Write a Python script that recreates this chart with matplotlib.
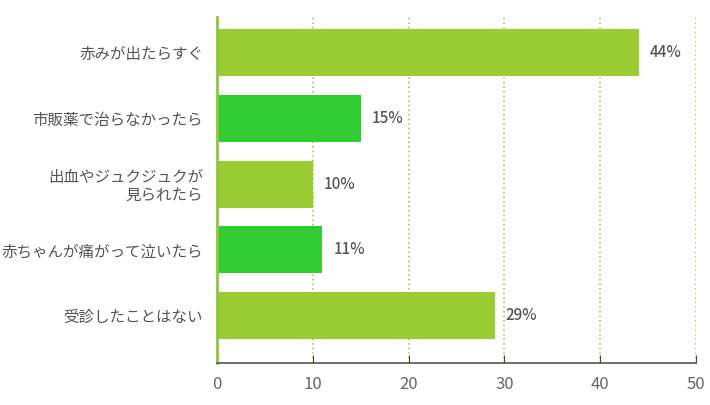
import matplotlib.pyplot as plt

plt.rcParams['font.family'] = ['Noto Sans CJK JP', 'DejaVu Sans']

categories = ["赤みが出たらすぐ", "市販薬で治らなかったら", "出血やジュクジュクが\n見られたら",
              "赤ちゃんが痛がって泣いたら", "受診したことはない"]
values = [44, 15, 10, 11, 29]
bar_colors = ["#9acd32", "#32cd32", "#9acd32", "#32cd32", "#9acd32"]
xticks = [0, 10, 20, 30, 40, 50]

fig = plt.figure(figsize=(7.1, 4.05), dpi=100)
ax = fig.add_axes([0.3056, 0.1037, 0.6747, 0.8543])

ypos = list(range(len(categories)))
ax.barh(ypos, values, height=0.715, color=bar_colors, zorder=2)
for y, v in zip(ypos, values):
    ax.annotate(f"{v}%", (v, y), xytext=(8, 0), textcoords="offset points",
                va="center", ha="left", fontsize=11, color="#555555", fontweight="medium")

ax.set_xlim(0, 50)
ax.set_ylim(4.72, -0.54)
ax.set_xticks(xticks)
ax.set_yticks(ypos)
ax.set_yticklabels(categories, fontsize=11.2, color="#555555", linespacing=1.05)
ax.tick_params(axis="y", length=0, pad=10)
ax.tick_params(axis="x", direction="in", length=6, colors="#444444", labelcolor="#666666",
               labelsize=12, pad=9)
for lbl in ax.get_yticklabels():
    lbl.set_multialignment("right")

ax.grid(axis="x", color="#8cc63f", linestyle=(0, (1, 2)), linewidth=1.1, zorder=1)
for s in ["top", "right"]:
    ax.spines[s].set_visible(False)
ax.spines["left"].set_color("#8cc63f")
ax.spines["left"].set_linewidth(2)
ax.spines["bottom"].set_color("#555555")
ax.spines["bottom"].set_linewidth(1.2)

fig.savefig("out.png", dpi=100)
